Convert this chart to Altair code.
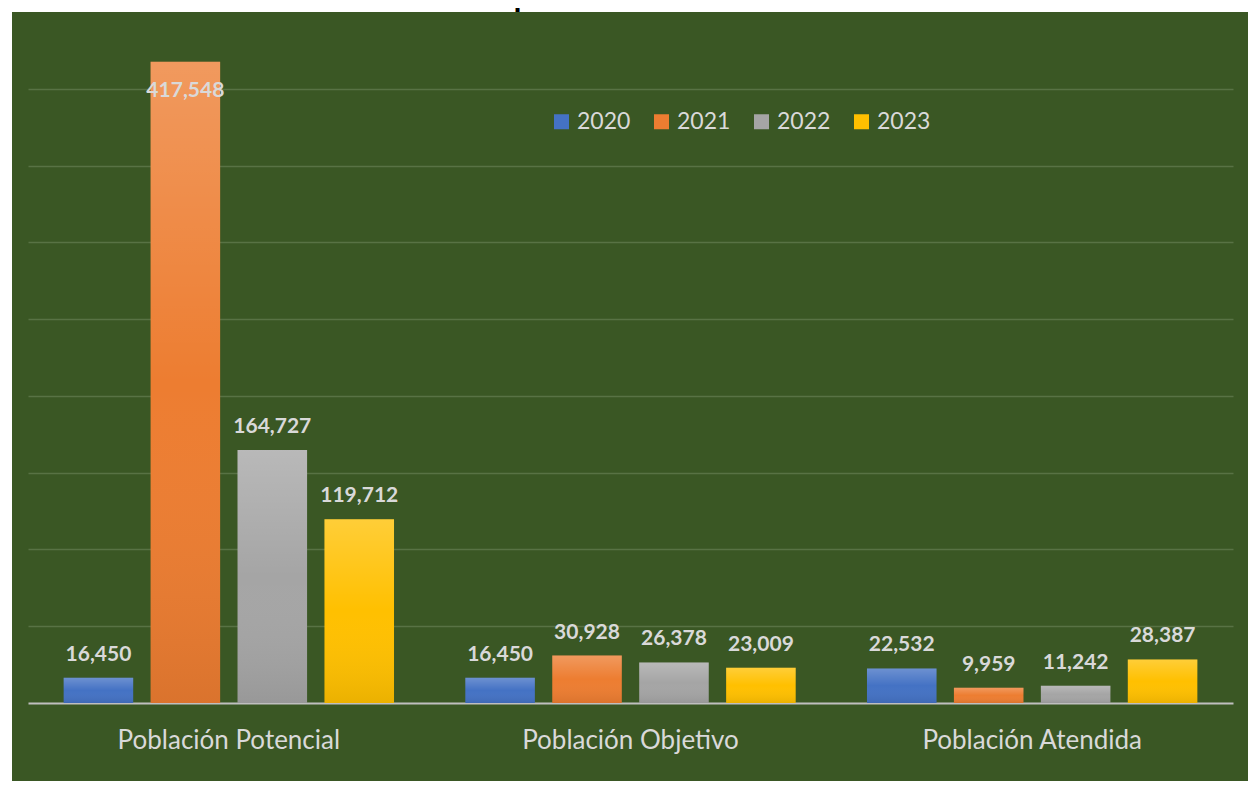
import altair as alt
import pandas as pd

categories = ["Población Potencial", "Población Objetivo", "Población Atendida"]
years = ["2020", "2021", "2022", "2023"]
v2020 = [16450, 16450, 22532]
v2021 = [417548, 30928, 9959]
v2022 = [164727, 26378, 11242]
v2023 = [119712, 23009, 28387]
colors = ["#4472C4", "#ED7D31", "#A5A5A5", "#FFC000"]
grid_values = [50000, 100000, 150000, 200000, 250000, 300000, 350000, 400000]
title_text = "periodo 2020-2023"

rows = []
for y, vals in zip(years, [v2020, v2021, v2022, v2023]):
    for c, v in zip(categories, vals):
        rows.append({"cat": c, "year": y, "value": v})
df = pd.DataFrame(rows)

W, H = 1205, 691
PAD = {"left": 20, "top": 4, "right": 15, "bottom": 78}
GREEN = "#3A5724"
LABEL = "#D9D9D9"

base = alt.Chart(df)

x_enc = alt.X("cat:N", sort=categories,
              scale=alt.Scale(paddingInner=0, paddingOuter=0),
              axis=alt.Axis(title=None, labelAngle=0, labelFont="Lato", labelFontSize=26,
                            labelColor=LABEL, labelPadding=24, labelLimit=500,
                            ticks=False, tickSize=0,
                            domainColor="#BFBFBF", domainWidth=2, grid=False))
xo_enc = alt.XOffset("year:N", sort=years,
                     scale=alt.Scale(paddingInner=0.2, paddingOuter=0.41))
y_enc = alt.Y("value:Q", scale=alt.Scale(domain=[0, 450000], nice=False),
              axis=alt.Axis(title=None, labels=False, ticks=False, domain=False, grid=True,
                            values=grid_values, gridColor="#587244", gridWidth=1.5))

one = pd.DataFrame({"a": [0]})
white_top = alt.Chart(one).mark_rect(color="white").encode(
    x=alt.value(-PAD["left"]), x2=alt.value(W + PAD["right"]),
    y=alt.value(-PAD["top"]), y2=alt.value(0))
white_left = alt.Chart(one).mark_rect(color="white").encode(
    x=alt.value(-PAD["left"]), x2=alt.value(-16),
    y=alt.value(-PAD["top"]), y2=alt.value(H + PAD["bottom"]))

title = alt.Chart(one).mark_text(
    text=title_text, font="Liberation Sans", fontWeight="bold", fontSize=29,
    color="black", baseline="alphabetic", align="center").encode(
    x=alt.value(612), y=alt.value(-6))

bars = base.mark_bar().encode(
    x=x_enc, xOffset=xo_enc, y=y_enc,
    color=alt.Color("year:N", sort=years, scale=alt.Scale(domain=years, range=colors),
                    legend=alt.Legend(title=None, orient="none", legendX=522, legendY=98,
                                      direction="horizontal", labelFont="Lato",
                                      labelFontSize=23, labelColor=LABEL,
                                      symbolType="square", symbolSize=225,
                                      symbolStrokeWidth=0, labelOffset=4,
                                      columnPadding=19, padding=0)))

shade = base.mark_bar(color={"gradient": "linear", "x1": 0, "y1": 0, "x2": 0, "y2": 1,
                             "stops": [{"offset": 0, "color": "rgba(255,255,255,0.22)"},
                                       {"offset": 0.5, "color": "rgba(255,255,255,0.0)"},
                                       {"offset": 1, "color": "rgba(0,0,0,0.08)"}]}).encode(
    x=alt.X("cat:N", sort=categories), xOffset=alt.XOffset("year:N", sort=years),
    y=alt.Y("value:Q"))

labels_out = base.transform_filter("datum.value < 400000").mark_text(
    font="Lato", fontWeight="bold", fontSize=21, color=LABEL, baseline="alphabetic",
    dy=-17).encode(x=alt.X("cat:N", sort=categories), xOffset=alt.XOffset("year:N", sort=years),
                   y=alt.Y("value:Q"), text=alt.Text("value:Q", format=","))
labels_in = base.transform_filter("datum.value >= 400000").mark_text(
    font="Lato", fontWeight="bold", fontSize=21, color=LABEL, baseline="alphabetic",
    dy=35).encode(x=alt.X("cat:N", sort=categories), xOffset=alt.XOffset("year:N", sort=years),
                  y=alt.Y("value:Q"), text=alt.Text("value:Q", format=","))

chart = alt.layer(bars, shade, labels_out, labels_in, white_top, white_left, title).properties(
    width=W, height=H, autosize=alt.AutoSizeParams(type="none"), padding=PAD,
    background=GREEN
).configure_view(stroke=None)

chart.save("out.html", embed_options={"renderer": "svg", "actions": False})
